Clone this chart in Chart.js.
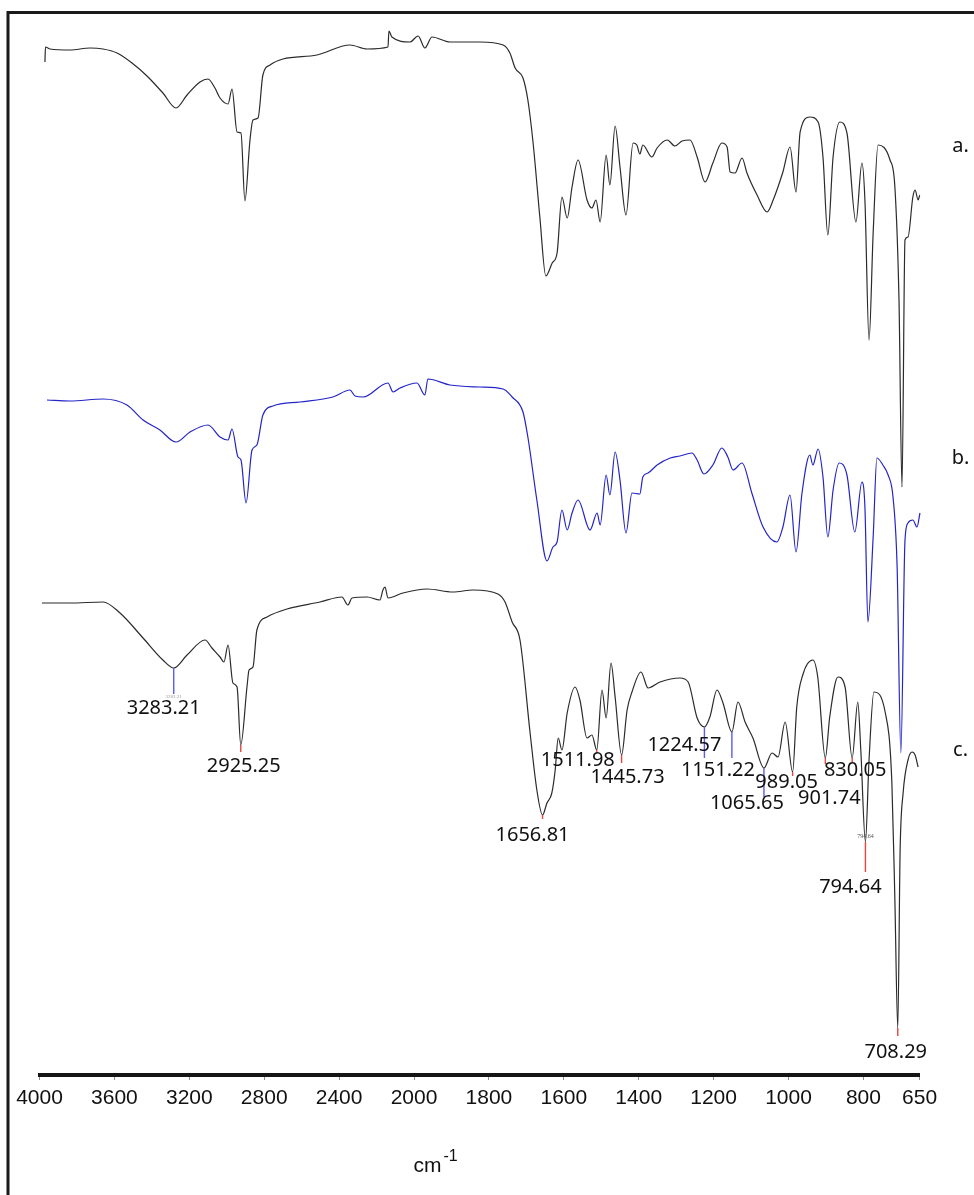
<!DOCTYPE html>
<html>
<head>
<meta charset="utf-8">
<script src="https://cdn.jsdelivr.net/npm/chart.js@4.4.0/dist/chart.umd.min.js"></script>
<style>
  html, body { margin: 0; padding: 0; background: #fff; }
  #wrap { position: relative; width: 974px; height: 1195px; }
</style>
</head>
<body>
<div id="wrap"><canvas id="ftir" width="974" height="1195"></canvas></div>
<script>
// FTIR spectra, wavenumber in cm-1, transmittance already offset for stacking
const aWn = [
  3971, 3968, 3944, 3837, 3730, 3661, 3586, 3506, 3426, 3341,
  3271, 3212, 3143, 3100, 3063, 3036, 2993, 2972, 2945, 2924,
  2903, 2876, 2860, 2833, 2807, 2769, 2700, 2518, 2342, 2251,
  2139, 2134, 2118, 2022, 1989, 1971, 1952, 1904, 1824, 1762,
  1744, 1730, 1709, 1696, 1682, 1664, 1648, 1631, 1618, 1605,
  1591, 1578, 1562, 1538, 1525, 1514, 1503, 1487, 1477, 1463,
  1450, 1434, 1415, 1405, 1397, 1389, 1365, 1351, 1324, 1303,
  1284, 1263, 1244, 1223, 1202, 1178, 1164, 1156, 1143, 1124,
  1111, 1084, 1057, 1041, 1015, 996, 980, 969, 943, 921,
  908, 895, 881, 863, 844, 820, 804, 796, 785, 774,
  761, 729, 716, 705, 697, 689, 681, 668, 662, 654,
  649, 644
];
const aT = [
  101.3, 102.8, 102.6, 102.5, 102.7, 102.6, 102.2, 101.2, 99.9, 98.2,
  96.7, 98.0, 99.3, 99.6, 98.7, 97.7, 97.1, 98.6, 94.3, 94.2,
  87.4, 93.5, 95.5, 95.7, 100.0, 101.0, 101.6, 102.0, 103.0, 102.6,
  102.8, 104.4, 103.8, 103.3, 103.9, 102.7, 103.8, 103.3, 103.3, 103.0,
  102.2, 100.7, 99.7, 97.5, 93.2, 85.8, 79.9, 81.2, 82.2, 87.8,
  85.7, 88.8, 91.5, 87.5, 86.7, 87.5, 85.3, 92.0, 89.0, 94.9,
  90.8, 86.0, 93.2, 93.0, 92.1, 93.0, 91.8, 92.7, 93.5, 92.9,
  93.4, 93.5, 91.8, 89.3, 91.2, 93.2, 92.8, 90.3, 90.2, 91.7,
  90.2, 88.0, 86.3, 87.5, 90.3, 92.8, 88.3, 94.3, 95.8, 95.3,
  91.8, 84.0, 91.8, 95.3, 94.2, 85.3, 91.2, 87.5, 73.5, 84.2,
  93.0, 91.5, 88.8, 77.5, 58.8, 83.5, 83.8, 87.8, 88.5, 87.5,
  88.0, 87.2
];

const bWn = [
  3960, 3837, 3661, 3533, 3447, 3357, 3271, 3196, 3100, 3036,
  2993, 2972, 2940, 2924, 2897, 2865, 2839, 2807, 2753, 2609,
  2433, 2342, 2315, 2272, 2139, 2112, 2075, 1992, 1971, 1963,
  1904, 1824, 1762, 1738, 1709, 1696, 1672, 1645, 1629, 1618,
  1605, 1591, 1578, 1562, 1530, 1511, 1503, 1487, 1477, 1463,
  1450, 1434, 1418, 1397, 1389, 1375, 1351, 1316, 1290, 1258,
  1244, 1226, 1202, 1178, 1162, 1148, 1124, 1098, 1068, 1031,
  1015, 996, 980, 964, 943, 935, 921, 908, 895, 881,
  865, 844, 823, 804, 796, 788, 774, 764, 748, 734,
  721, 710, 700, 689, 681, 668, 657, 649, 641
];
const bT = [
  67.5, 67.4, 67.6, 67.0, 65.5, 64.5, 63.3, 64.3, 65.0, 63.8,
  63.5, 64.6, 61.8, 61.5, 57.2, 62.5, 63.0, 66.0, 66.9, 67.3,
  67.8, 68.5, 67.9, 67.8, 69.2, 68.3, 68.7, 69.2, 68.0, 69.6,
  69.0, 68.8, 68.6, 67.8, 66.3, 63.8, 57.5, 51.4, 52.8, 53.3,
  56.5, 54.5, 56.2, 57.5, 54.5, 56.2, 55.0, 60.0, 58.0, 62.3,
  59.5, 54.2, 58.2, 58.1, 59.8, 60.2, 61.0, 61.7, 61.9, 62.2,
  61.5, 60.1, 61.0, 62.7, 61.8, 60.5, 61.2, 58.2, 54.8, 53.3,
  54.8, 58.0, 52.3, 58.2, 62.0, 61.0, 62.6, 59.8, 53.8, 58.5,
  61.2, 60.0, 54.3, 59.3, 56.8, 45.3, 53.8, 61.7, 61.0, 60.0,
  57.8, 50.8, 32.2, 53.5, 55.2, 55.5, 54.8, 56.2, 57.5
];

const cWn = [
  3987, 3837, 3661, 3570, 3447, 3341, 3283.21, 3212, 3116, 3079,
  3036, 3015, 2993, 2967, 2945, 2925.25, 2892, 2881, 2860, 2839,
  2785, 2678, 2502, 2385, 2353, 2331, 2251, 2182, 2166, 2155,
  2139, 2059, 1965, 1896, 1842, 1776, 1757, 1738, 1717, 1690,
  1672, 1656.81, 1645, 1632, 1623, 1615, 1605, 1591, 1570, 1557,
  1538, 1525, 1511.98, 1498, 1487, 1474, 1463, 1445.73, 1431, 1418,
  1394, 1375, 1343, 1290, 1268, 1244, 1224.57, 1210, 1191, 1175,
  1151.22, 1135, 1116, 1095, 1065.65, 1044, 1028, 1009, 989.05, 978,
  962, 935, 922, 901.74, 890, 868, 849, 830.05, 815, 807,
  794.64, 785, 772, 742, 724, 716, 708.29, 702, 694, 681,
  670, 662, 654
];
const cT = [
  47.2, 47.2, 47.3, 46.2, 43.7, 41.5, 40.7, 42.0, 43.5, 42.7,
  41.8, 41.3, 43.0, 39.2, 38.8, 33.0, 38.8, 40.5, 40.8, 44.5,
  45.8, 46.6, 47.3, 47.8, 47.0, 47.7, 47.8, 47.5, 48.5, 48.8,
  47.7, 48.2, 48.6, 48.3, 48.5, 48.1, 47.3, 45.3, 43.5, 34.2,
  28.5, 26.0, 27.2, 28.2, 30.5, 33.7, 32.5, 36.2, 38.8, 37.5,
  33.7, 34.0, 32.5, 38.5, 35.7, 41.2, 37.8, 32.0, 36.5, 38.3,
  40.3, 38.7, 39.3, 39.7, 39.3, 35.7, 34.8, 35.8, 38.5, 37.2,
  34.3, 37.3, 35.3, 33.7, 30.7, 32.2, 31.8, 35.3, 30.3, 36.8,
  40.0, 41.5, 39.8, 31.7, 35.8, 39.8, 38.8, 31.7, 37.3, 32.5,
  23.3, 31.5, 38.3, 36.3, 29.2, 17.5, 4.7, 22.5, 28.2, 31.5,
  32.3, 32.0, 30.8
];

const tickWn = [4000, 3600, 3200, 2800, 2400, 2000, 1800, 1600, 1400, 1200, 1000, 800, 650];
const traceNames = ['a.', 'b.', 'c.'];
const peakWn = [3283.21, 2925.25, 1656.81, 1511.98, 1445.73, 1224.57, 1151.22, 1065.65, 989.05, 901.74, 830.05, 794.64, 708.29];
const peakLabels = ['3283.21', '2925.25', '1656.81', '1511.98', '1445.73', '1224.57', '1151.22', '1065.65', '989.05', '901.74', '830.05', '794.64', '708.29'];

// look of the peak marks (not data)
const RED = '#e8453c', BLUE = '#5a5cf0';
const peakColor = [BLUE, RED, RED, RED, RED, BLUE, BLUE, BLUE, RED, RED, RED, RED, RED];
const peakTick = [26, 7, 4, 3, 8, 31, 26, 29, 4, 6, 4, 30, 8];
const peakDx = [-10, 3, -10, -19, 6, -20, -14, -17, -6, 4, 3, -15, -2];
const peakDy = [40, 21, 20, 10, 22, 18, 38, 35, 10, 40, 12, 45, 24];
const nameLevel = [92.9, 61.7, 32.5];

// the axis is split: 400 cm-1 per step above 2000, 200 cm-1 per step below
function toAxis(w) {
  return w >= 2000 ? (4000 - w) / 400 : 5 + (2000 - w) / 200;
}

function points(wn, t) {
  return wn.map((w, i) => ({ x: toAxis(w), y: t[i] }));
}

function nearest(arr, w) {
  let best = 0;
  arr.forEach((v, i) => { if (Math.abs(v - w) < Math.abs(arr[best] - w)) best = i; });
  return best;
}

const frame = {
  id: 'frame',
  beforeDraw(chart) {
    const ctx = chart.ctx;
    ctx.save();
    ctx.fillStyle = '#fff';
    ctx.fillRect(0, 0, chart.width, chart.height);
    ctx.strokeStyle = '#1a1a1a';
    ctx.lineWidth = 3;
    ctx.beginPath();
    ctx.moveTo(8, chart.height);
    ctx.lineTo(8, 12.5);
    ctx.lineTo(chart.width, 12.5);
    ctx.stroke();
    ctx.restore();
  }
};

const notes = {
  id: 'notes',
  afterDraw(chart) {
    const { ctx, chartArea } = chart;
    const x = chart.scales.x, y = chart.scales.y;
    ctx.save();
    ctx.textAlign = 'center';
    ctx.textBaseline = 'middle';

    peakWn.forEach((w, i) => {
      const k = nearest(cWn, w);
      const px = x.getPixelForValue(toAxis(w));
      const py = y.getPixelForValue(cT[k]);
      ctx.strokeStyle = peakColor[i];
      ctx.lineWidth = 1.4;
      ctx.beginPath();
      ctx.moveTo(px, py);
      ctx.lineTo(px, py + peakTick[i]);
      ctx.stroke();
      ctx.fillStyle = '#111';
      ctx.font = '20px "Noto Sans", sans-serif';
      ctx.fillText(peakLabels[i], px + peakDx[i], py + peakDy[i]);
    });

    // tiny duplicate labels left by the instrument software
    ctx.font = '6px "Liberation Serif", serif';
    ctx.fillStyle = '#555';
    let k = nearest(cWn, 794.64);
    ctx.fillText('794.64', x.getPixelForValue(toAxis(794.64)), y.getPixelForValue(cT[k]) - 6);
    ctx.fillStyle = '#999';
    ctx.font = '5px "Liberation Serif", serif';
    k = nearest(cWn, 3283.21);
    ctx.fillText('3283.21', x.getPixelForValue(toAxis(3283.21)), y.getPixelForValue(cT[k]) + 29);

    ctx.fillStyle = '#111';
    ctx.font = '20px "Noto Sans", sans-serif';
    traceNames.forEach((n, i) => {
      ctx.fillText(n, chartArea.right + 41, y.getPixelForValue(nameLevel[i]));
    });

    // axis title cm-1
    ctx.textAlign = 'left';
    ctx.textBaseline = 'alphabetic';
    const tx = chartArea.left + 374, ty = chartArea.bottom + 97;
    ctx.font = '21px "Liberation Sans", sans-serif';
    ctx.fillText('cm', tx, ty);
    const cw = ctx.measureText('cm').width;
    ctx.font = '16px "Liberation Sans", sans-serif';
    ctx.fillText('-1', tx + cw + 2, ty - 11);
    ctx.restore();
  }
};

const lineStyle = { pointRadius: 0, borderWidth: 1.2, cubicInterpolationMode: 'monotone', clip: false, fill: false };

new Chart(document.getElementById('ftir'), {
  type: 'line',
  data: {
    datasets: [
      Object.assign({ label: 'a', data: points(aWn, aT), borderColor: '#2b2b2b' }, lineStyle),
      Object.assign({ label: 'b', data: points(bWn, bT), borderColor: '#2424c8' }, lineStyle),
      Object.assign({ label: 'c', data: points(cWn, cT), borderColor: '#2b2b2b' }, lineStyle)
    ]
  },
  options: {
    responsive: false,
    animation: false,
    devicePixelRatio: 1,
    layout: { padding: { left: 39.5, right: 54.4, top: 20, bottom: 0 } },
    plugins: { legend: { display: false }, tooltip: { enabled: false } },
    scales: {
      x: {
        type: 'linear',
        min: 0,
        max: toAxis(650),
        afterBuildTicks: (s) => { s.ticks = tickWn.map(w => ({ value: toAxis(w) })); },
        afterFit: (s) => { s.height = 120; },
        ticks: {
          autoSkip: false,
          maxRotation: 0,
          padding: 6,
          color: '#111',
          font: { family: "'Liberation Sans', Arial, sans-serif", size: 21 },
          callback: (v, i) => tickWn[i]
        },
        grid: { drawOnChartArea: false, drawTicks: true, tickLength: 5, tickColor: '#8a8a8a' },
        border: { display: true, color: '#151515', width: 4 }
      },
      y: { display: false, min: 0, max: 105.5 }
    }
  },
  plugins: [frame, notes]
});
</script>
</body>
</html>
